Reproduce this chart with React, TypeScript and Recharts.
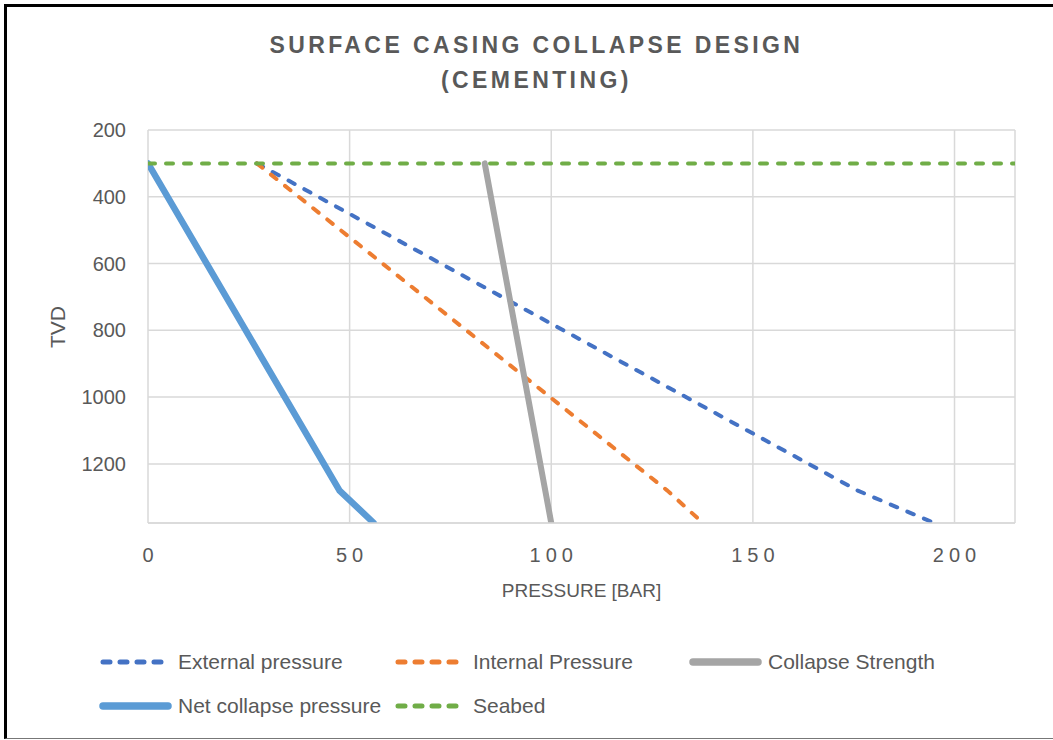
import React from "react";
import { LineChart, Line, XAxis, YAxis, CartesianGrid } from "recharts";

// ---- data ----
const extPressure = [27, 176, 195];
const extDepth = [300, 1280, 1377];
const intPressure = [27, 128.8, 137.6];
const intDepth = [300, 1280, 1377];
const collapsePressure = [83.5, 100];
const collapseDepth = [300, 1377];
const netPressure = [0, 47.5, 56];
const netDepth = [300, 1280, 1377];
const seabedPressure = [0, 215];
const seabedDepth = [300, 300];

const xTicks = [0, 50, 100, 150, 200];
const yTicks = [200, 400, 600, 800, 1000, 1200];
const xDomain = [0, 215];
const yDomain = [200, 1377];

const titleLines = ["SURFACE CASING COLLAPSE DESIGN", "(CEMENTING)"];
const xTitle = "PRESSURE [BAR]";
const yTitle = "TVD";

const zip = (p: number[], d: number[]) => p.map((v, i) => ({ p: v, d: d[i] }));

const series = [
  { name: "External pressure", data: zip(extPressure, extDepth), color: "#4472C4", width: 4, dash: "7 11" },
  { name: "Internal Pressure", data: zip(intPressure, intDepth), color: "#ED7D31", width: 4, dash: "7 11" },
  { name: "Collapse Strength", data: zip(collapsePressure, collapseDepth), color: "#A5A5A5", width: 6, dash: undefined },
  { name: "Net collapse pressure", data: zip(netPressure, netDepth), color: "#5B9BD5", width: 6.5, dash: undefined },
  { name: "Seabed", data: zip(seabedPressure, seabedDepth), color: "#70AD47", width: 4, dash: "7 11" },
];

const FONT = "'Liberation Sans', Arial, sans-serif";
const TEXT = "#595959";

const XTick = (props: any) => {
  const { x, y, payload } = props;
  return (
    <text x={x + 2.5} y={y} dy="0.71em" textAnchor="middle" fill={TEXT} fontSize={20} fontFamily={FONT} letterSpacing={5}>
      {payload.value}
    </text>
  );
};

export default function App() {
  return (
    <div style={{ position: "absolute", left: 0, top: 0, width: 1053, height: 740, background: "#fff", overflow: "hidden" }}>
      <div
        style={{
          position: "absolute",
          left: 4,
          top: 4,
          width: 1060,
          height: 731,
          borderTop: "3px solid #000",
          borderLeft: "3px solid #000",
          borderBottom: "1px solid #777",
        }}
      />
      {titleLines.map((t, i) => (
        <div
          key={i}
          style={{
            position: "absolute",
            left: 0,
            width: 1066,
            top: 31 + i * 35,
            textAlign: "center",
            fontFamily: FONT,
            fontWeight: "bold",
            fontSize: 23,
            lineHeight: "28px",
            letterSpacing: 3.4,
            paddingLeft: 3.4,
            color: TEXT,
            whiteSpace: "nowrap",
          }}
        >
          {t}
        </div>
      ))}
      <div style={{ position: "absolute", left: 0, top: 0 }}>
        <LineChart width={1053} height={740} margin={{ top: 130, right: 38, bottom: 157, left: 0 }}>
          <CartesianGrid stroke="#d9d9d9" strokeWidth={1.5} />
          <XAxis
            dataKey="p"
            type="number"
            domain={xDomain}
            ticks={xTicks}
            allowDataOverflow
            height={60}
            tickSize={0}
            tickMargin={25}
            tickLine={false}
            axisLine={{ stroke: "#d9d9d9", strokeWidth: 1.5 }}
            tick={<XTick />}
          />
          <YAxis
            type="number"
            reversed
            domain={yDomain}
            ticks={yTicks}
            allowDataOverflow
            width={148}
            tickSize={0}
            tickMargin={22}
            tickLine={false}
            axisLine={false}
            tick={{ fill: TEXT, fontSize: 20, fontFamily: FONT }}
          />
          {series.map((s) => (
            <Line
              key={s.name}
              data={s.data}
              dataKey="d"
              name={s.name}
              stroke={s.color}
              strokeWidth={s.width}
              strokeDasharray={s.dash}
              strokeLinecap="round"
              strokeLinejoin="round"
              dot={false}
              activeDot={false}
              isAnimationActive={false}
              type="linear"
            />
          ))}
        </LineChart>
      </div>
      <div
        style={{
          position: "absolute",
          left: 0,
          width: 1163,
          top: 580,
          textAlign: "center",
          fontFamily: FONT,
          fontSize: 19,
          color: TEXT,
        }}
      >
        {xTitle}
      </div>
      <div
        style={{
          position: "absolute",
          left: 58,
          top: 327,
          transform: "translate(-50%, -50%) rotate(-90deg)",
          fontFamily: FONT,
          fontSize: 21,
          color: TEXT,
          whiteSpace: "nowrap",
        }}
      >
        {yTitle}
      </div>
      {series.map((s, i) => {
        const col = i % 3;
        const row = Math.floor(i / 3);
        const left = 98 + col * 295;
        const top = 662 + row * 44;
        return (
          <div
            key={s.name}
            style={{
              position: "absolute",
              left,
              top: top - 14,
              height: 28,
              display: "flex",
              alignItems: "center",
              fontFamily: FONT,
              fontSize: 21,
              color: TEXT,
              whiteSpace: "nowrap",
            }}
          >
            <svg width={78} height={28} style={{ display: "block" }}>
              <line
                x1={5}
                y1={14}
                x2={70}
                y2={14}
                stroke={s.color}
                strokeWidth={s.dash ? 5 : 7.5}
                strokeDasharray={s.dash ? "7 10" : undefined}
                strokeLinecap="round"
              />
            </svg>
            <span style={{ marginLeft: 2 }}>{s.name}</span>
          </div>
        );
      })}
    </div>
  );
}
